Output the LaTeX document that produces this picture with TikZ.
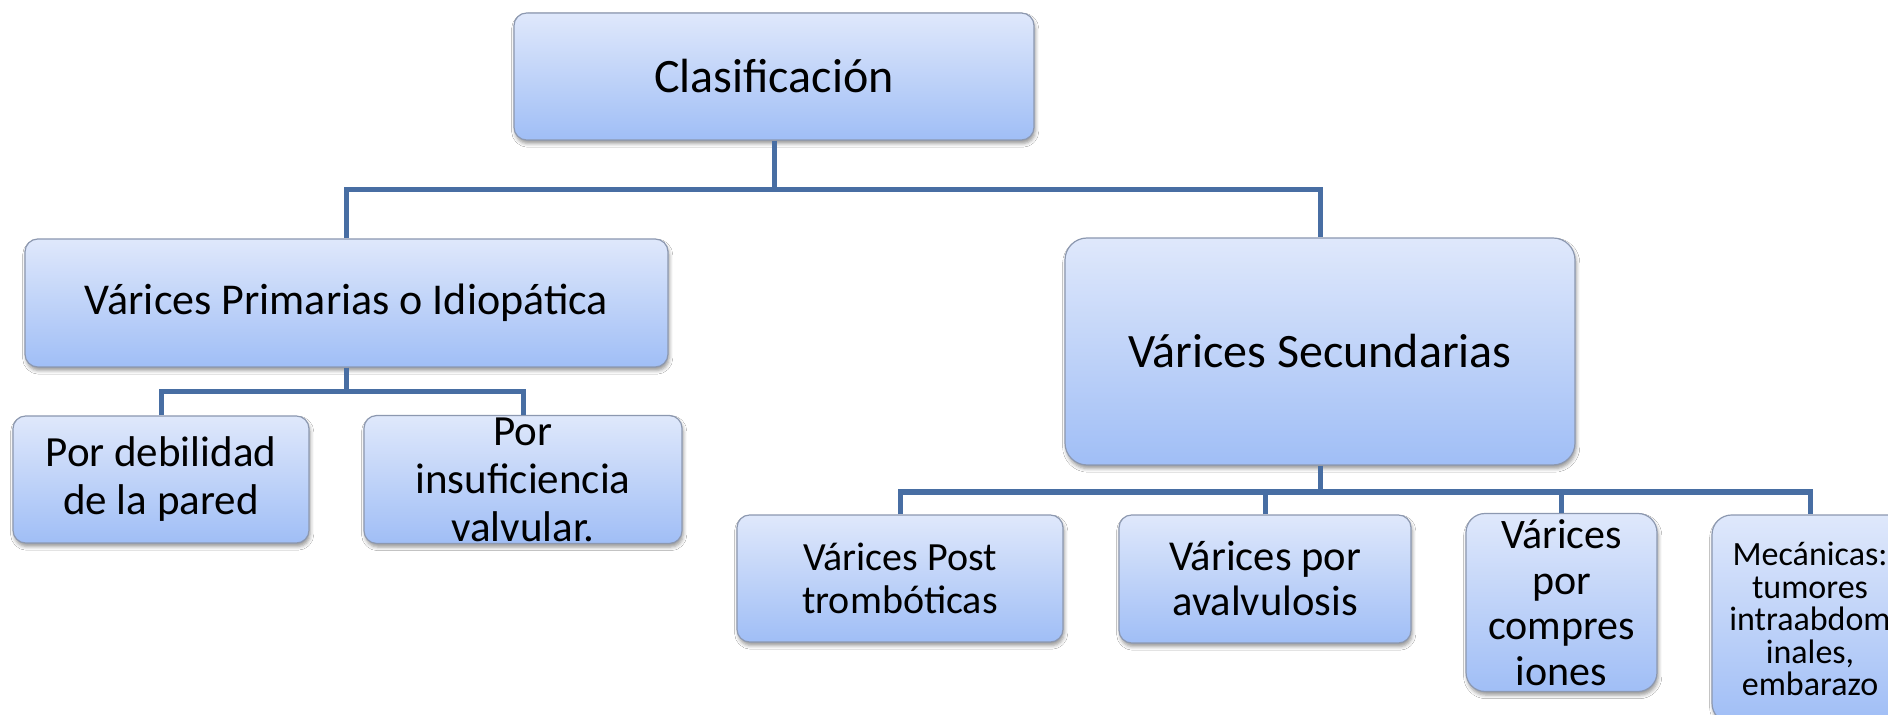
\documentclass[tikz,border=0pt]{standalone}
\usepackage{fontspec}
\setmainfont{Carlito}
\usetikzlibrary{shadows.blur}
\definecolor{boxtop}{RGB}{223,232,251}
\definecolor{boxbot}{RGB}{160,190,246}
\definecolor{boxline}{RGB}{140,152,176}
\definecolor{conncol}{RGB}{72,110,163}
\tikzset{
  box/.style={draw=boxline, line width=0.6pt, top color=boxtop, bottom color=boxbot,
    align=center, inner sep=1pt,
    blur shadow={shadow xshift=0.6pt, shadow yshift=-1.8pt, shadow blur radius=1.8pt, shadow opacity=40}},
  connector/.style={draw=conncol, line width=2.5pt},
  fs/.style n args={2}{font=\fontsize{#1}{#2}\selectfont},
}
\begin{document}
\begin{tikzpicture}[x=0.5pt,y=-0.5pt]
\useasboundingbox (0,0) rectangle (1888,715);
\clip (0,0) rectangle (1888,715);
\fill[white] (0,0) rectangle (1888,715);
% bus levels
\coordinate (bus1) at (0,190);
\coordinate (bus2) at (0,392);
\coordinate (bus3) at (0,492);
% nodes
\node[box, minimum width=260pt, minimum height=63.5pt, rounded corners=6.3pt, fs={24pt}{28pt}] (clas) at (774,76.5) {Clasificación};
\node[box, minimum width=321.5pt, minimum height=64pt, rounded corners=6.4pt, fs={22pt}{26pt}] (prim) at (346.5,303) {Várices Primarias o Idiopática};
\node[box, minimum width=255pt, minimum height=113.5pt, rounded corners=11pt, fs={24pt}{28pt}] (sec) at (1320,351.5) {Várices Secundarias};
\node[box, minimum width=148pt, minimum height=63.5pt, rounded corners=6.3pt, fs={21.5pt}{24pt}] (pd) at (161,479.5) {Por debilidad\\de la pared};
\node[box, minimum width=159pt, minimum height=63.5pt, rounded corners=6.3pt, fs={21.5pt}{24pt}] (pi) at (523,479.5) {Por\\insuficiencia\\valvular.};
\node[box, minimum width=163pt, minimum height=63.5pt, rounded corners=6.3pt, fs={20pt}{21.5pt}] (post) at (900,578.5) {Várices Post\\trombóticas};
\node[box, minimum width=146pt, minimum height=64pt, rounded corners=6.3pt, fs={21.3pt}{22.5pt}] (aval) at (1265,579) {Várices por\\avalvulosis};
\node[box, minimum width=95.5pt, minimum height=89pt, rounded corners=9.5pt, fs={21pt}{22.75pt}] (comp) at (1561.5,602.5) {Várices\\por\\compres\\iones};
\node[box, minimum width=98pt, minimum height=104pt, rounded corners=9.8pt, fs={17pt}{16.25pt}] (mec) at (1810,619) {Mecánicas:\\tumores\\intraabdom\\inales,\\embarazo};
% connectors
\draw[connector] (clas.south) -- (clas.south |- bus1);
\draw[connector] (prim.north) -- (prim.north |- bus1) -- (sec.north |- bus1) -- (sec.north);
\draw[connector] (prim.south) -- (prim.south |- bus2);
\draw[connector] (pd.north) -- (pd.north |- bus2) -- (pi.north |- bus2) -- (pi.north);
\draw[connector] (sec.south) -- (sec.south |- bus3);
\draw[connector] (post.north) -- (post.north |- bus3) -- (mec.north |- bus3) -- (mec.north);
\draw[connector] (aval.north) -- (aval.north |- bus3);
\draw[connector] (comp.north) -- (comp.north |- bus3);
\end{tikzpicture}
\end{document}
